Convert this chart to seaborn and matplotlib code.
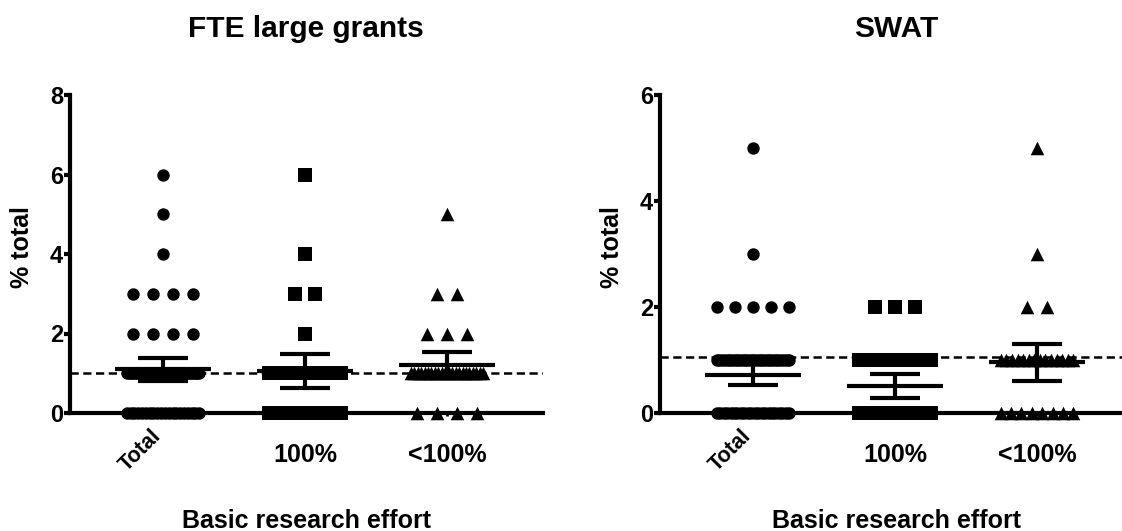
import numpy as np
import pandas as pd
import matplotlib
matplotlib.use("Agg")
import matplotlib.pyplot as plt
import seaborn as sns

# ---------------------------------------------------------------
# Data (value -> number of points per group)
# ---------------------------------------------------------------
groups = ["Total", "100%", "<100%"]
group_markers = {"Total": "o", "100%": "s", "<100%": "^"}
group_sizes = {"Total": 80, "100%": 90, "<100%": 95}

fte_values = [0, 1, 2, 3, 4, 5, 6]
fte_total = [20, 40, 4, 4, 1, 1, 1]
fte_full = [16, 18, 1, 2, 1, 0, 1]
fte_part = [4, 22, 3, 2, 0, 1, 0]
fte_mean = [1.10, 1.05, 1.21]
fte_sem = [0.29, 0.43, 0.33]
fte_ref = 1.01

swat_values = [0, 1, 2, 3, 4, 5]
swat_total = [22, 28, 5, 1, 0, 1]
swat_full = [14, 14, 3, 0, 0, 0]
swat_part = [8, 14, 2, 1, 0, 1]
swat_mean = [0.72, 0.51, 0.96]
swat_sem = [0.20, 0.225, 0.35]
swat_ref = 1.05


def spread(n, step=0.14, width=0.51):
    # points with the same value are laid side by side, squeezed when crowded
    if n == 1:
        return np.zeros(1)
    span = min((n - 1) * step, width)
    return np.linspace(-span / 2, span / 2, n)


def build_frame(values, counts_by_group):
    rows = []
    for i, (g, counts) in enumerate(zip(groups, counts_by_group)):
        for v, k in zip(values, counts):
            if k == 0:
                continue
            for dx in spread(k):
                rows.append({"group": g, "x": i + dx, "y": v})
    return pd.DataFrame(rows)


sns.set_style("ticks")
plt.rcParams["font.family"] = ["Liberation Sans", "DejaVu Sans"]
plt.rcParams["font.weight"] = "bold"
for key in ["text.color", "axes.labelcolor", "xtick.color", "ytick.color",
            "axes.edgecolor"]:
    plt.rcParams[key] = "black"

fig = plt.figure(figsize=(11.22, 5.31), dpi=100)

panels = [
    ("FTE large grants", fte_values, [fte_total, fte_full, fte_part],
     fte_mean, fte_sem, fte_ref, 8, 70),
    ("SWAT", swat_values, [swat_total, swat_full, swat_part],
     swat_mean, swat_sem, swat_ref, 6, 660),
]

for title, values, counts, means, sems, ref, ytop, x0 in panels:
    ax = fig.add_axes([x0 / 1122, 1 - 413 / 531, 473 / 1122, 318 / 531])
    df = build_frame(values, counts)

    ax.axhline(ref, color="black", lw=1.8, ls=(0, (3.3, 1.8)), zorder=1)

    for g in groups:
        sns.scatterplot(data=df[df["group"] == g], x="x", y="y",
                        marker=group_markers[g], s=group_sizes[g],
                        color="black", linewidth=0, legend=False,
                        clip_on=False, zorder=3, ax=ax)

    # mean and SEM
    for i, (m, e) in enumerate(zip(means, sems)):
        ax.hlines(m, i - 0.335, i + 0.335, color="black", lw=3, zorder=4)
        ax.hlines([m - e, m + e], i - 0.175, i + 0.175, color="black",
                  lw=3, zorder=4)
        ax.vlines(i, m - e, m + e, color="black", lw=3, zorder=4)

    ax.set_xlim(-0.655, 2.676)
    ax.set_ylim(0, ytop)
    ax.set_yticks(np.arange(0, ytop + 1, 2))
    ax.set_xticks([0, 1, 2])
    ax.set_xticklabels(["", "", ""])
    ax.tick_params(axis="y", length=4, width=3, pad=1, labelsize=17)
    ax.tick_params(axis="x", length=2, width=2)
    for lab in ax.get_yticklabels():
        lab.set_fontweight("bold")
    sns.despine(ax=ax)
    for side in ["left", "bottom"]:
        ax.spines[side].set_linewidth(3)

    # category labels
    ax.annotate("Total", xy=(0, 0), xycoords=("data", "axes fraction"),
                xytext=(-0.5, -17), textcoords="offset points",
                rotation=45, rotation_mode="anchor", ha="right",
                va="baseline", fontsize=15.5, fontweight="bold")
    for i, lab in zip([1, 2], groups[1:]):
        ax.annotate(lab, xy=(i, 0), xycoords=("data", "axes fraction"),
                    xytext=(0, -30), textcoords="offset points",
                    ha="center", va="center", fontsize=18, fontweight="bold")

    ax.set_xlabel("Basic research effort", fontsize=18, fontweight="bold")
    ax.xaxis.set_label_coords(0.5, (413 - 521) / 318)
    ax.xaxis.label.set_va("center")
    ax.set_ylabel("% total", fontsize=18, fontweight="bold")
    ax.yaxis.set_label_coords((22 - 70) / 473, (413 - 247) / 318)
    ax.yaxis.label.set_va("center")

    fig.text((x0 + 236) / 1122, 1 - 29 / 531, title, ha="center",
             va="center", fontsize=21.5, fontweight="bold")

fig.savefig("out.png", dpi=100, facecolor="white")
